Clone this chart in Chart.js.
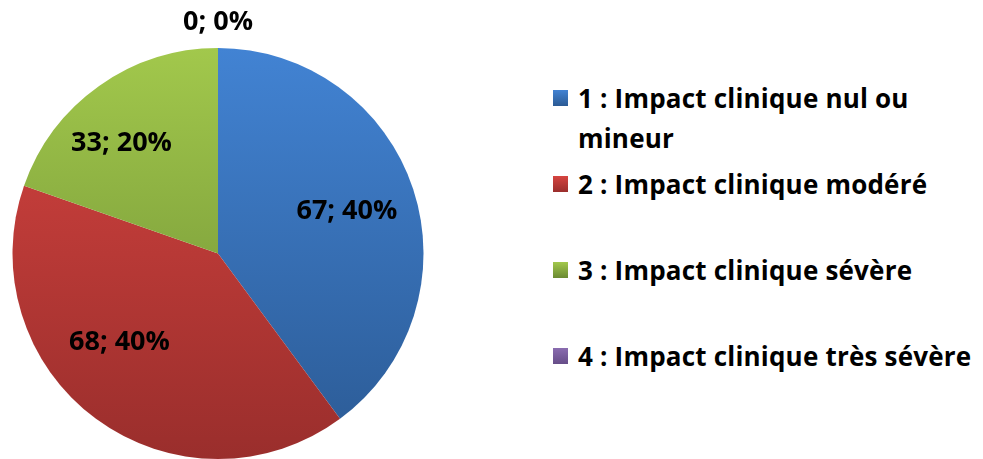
<!DOCTYPE html>
<html>
<head>
<meta charset="utf-8">
<script src="https://cdn.jsdelivr.net/npm/chart.js@4/dist/chart.umd.min.js"></script>
<style>
  html, body { margin: 0; padding: 0; background: #fff; }
  #wrap { position: relative; width: 983px; height: 459px; overflow: hidden; }
  #pie-box { position: absolute; left: 0; top: 0; width: 440px; height: 459px; }
  #legend { position: absolute; left: 553px; top: 78px; font-family: "Open Sans", Lato, sans-serif;
            font-weight: bold; font-size: 26px; letter-spacing: 0.2px; color: #000; }
  .item { position: relative; height: 86px; }
  .box { position: absolute; left: 0; top: 12px; width: 15px; height: 16px; }
  .txt { position: absolute; left: 25px; top: 0; line-height: 40px; white-space: nowrap; }
</style>
</head>
<body>
<div id="wrap">
  <div id="pie-box"><canvas id="pie"></canvas></div>
  <div id="legend"></div>
</div>
<script>
// ---- data ----
const labels = [
  ["1 : Impact clinique nul ou", "mineur"],
  "2 : Impact clinique modéré",
  "3 : Impact clinique sévère",
  "4 : Impact clinique très sévère",
];
const counts = [67, 68, 33, 0];

// light (top) / dark (bottom) shades per slice
const topColors = ["#4283d3", "#d64440", "#a2c84c", "#8a6cb0"];
const bottomColors = ["#2b5a94", "#9a2e2c", "#6a8a32", "#664d88"];

function sliceGradient(chart, i) {
  const { ctx, chartArea } = chart;
  if (!chartArea) return topColors[i];
  const g = ctx.createLinearGradient(0, chartArea.top, 0, chartArea.bottom);
  g.addColorStop(0, topColors[i]);
  g.addColorStop(1, bottomColors[i]);
  return g;
}

// value labels "n; p%"
const valueLabels = {
  id: "valueLabels",
  afterDatasetsDraw(chart) {
    const { ctx } = chart;
    const meta = chart.getDatasetMeta(0);
    const data = chart.data.datasets[0].data;
    const total = data.reduce((a, b) => a + b, 0);
    ctx.save();
    ctx.font = "bold 27px 'Open Sans', Lato, sans-serif";
    ctx.fillStyle = "#000";
    ctx.textAlign = "center";
    ctx.textBaseline = "middle";
    meta.data.forEach((arc, i) => {
      const v = data[i];
      const p = arc.getProps(["x", "y", "startAngle", "endAngle", "outerRadius"], true);
      const mid = (p.startAngle + p.endAngle) / 2;
      const r = v > 0 ? p.outerRadius * 0.66 : p.outerRadius + 26;
      // best-fit style nudge for the lower-left slices
      const tx = p.x + Math.cos(mid) * r - (v > 0 && Math.cos(mid) < 0 ? 18 : 0);
      const ty = p.y + Math.sin(mid) * r - (v > 0 && Math.sin(mid) > 0 && Math.cos(mid) < 0 ? 20 : 0);
      ctx.fillText(v + "; " + Math.round((v / total) * 100) + "%", tx, ty);
    });
    ctx.restore();
  },
};

const chart = new Chart(document.getElementById("pie"), {
  type: "pie",
  data: {
    labels: labels,
    datasets: [{
      data: counts,
      backgroundColor: (c) => sliceGradient(c.chart, c.dataIndex),
      borderWidth: 0,
    }],
  },
  options: {
    responsive: true,
    maintainAspectRatio: false,
    animation: false,
    layout: { padding: { left: 12, right: 16, top: 48, bottom: 0 } },
    plugins: { legend: { display: false }, tooltip: { enabled: false } },
  },
  plugins: [valueLabels],
});

// html legend built from chart data
const legendEl = document.getElementById("legend");
chart.data.labels.forEach((lab, i) => {
  const item = document.createElement("div");
  item.className = "item";
  const box = document.createElement("div");
  box.className = "box";
  box.style.background = `linear-gradient(${topColors[i]}, ${bottomColors[i]})`;
  const txt = document.createElement("div");
  txt.className = "txt";
  (Array.isArray(lab) ? lab : [lab]).forEach((line, k) => {
    if (k) txt.appendChild(document.createElement("br"));
    txt.appendChild(document.createTextNode(line));
  });
  item.appendChild(box);
  item.appendChild(txt);
  legendEl.appendChild(item);
});
</script>
</body>
</html>
